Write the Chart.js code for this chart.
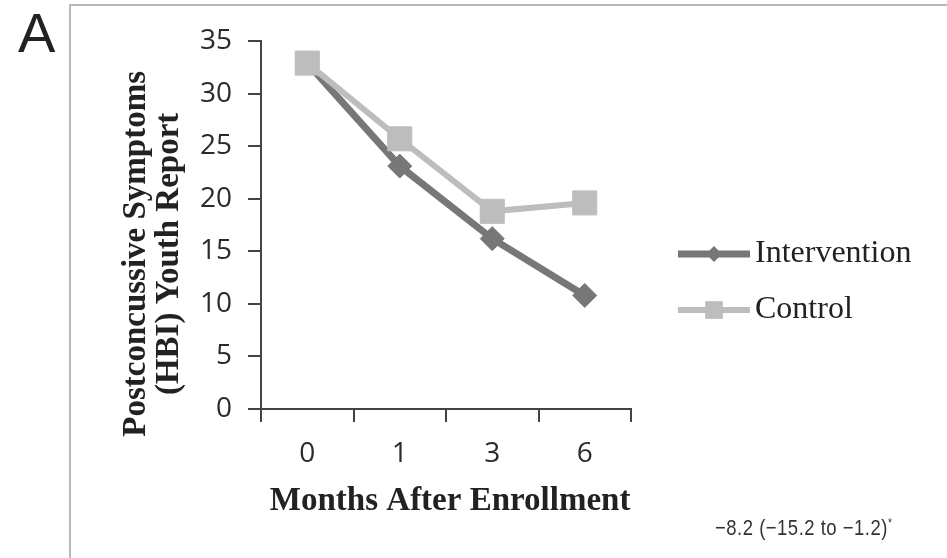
<!DOCTYPE html>
<html lang="en">
<head>
    <meta charset="UTF-8">
    <title>Postconcussive Symptoms - Youth Report</title>
    <script src="https://cdn.jsdelivr.net/npm/chart.js"></script>
    <style>
        html, body {
            margin: 0;
            padding: 0;
            background: #ffffff;
            overflow: hidden;
        }
        .wrap {
            position: relative;
            width: 947px;
            height: 558px;
        }
        .frame {
            position: absolute;
            left: 69px;
            top: 4px;
            width: 1000px;
            height: 1000px;
            border: 2px solid #b8b8b8;
        }
        .panel {
            position: absolute;
            left: 18px;
            top: 5px;
            font: 56px/1 "Liberation Sans", Arial, sans-serif;
            color: #222;
        }
        canvas {
            position: absolute;
            left: 0;
            top: 0;
        }
        .note {
            position: absolute;
            left: 715px;
            top: 517px;
            font: 22px/1 "Liberation Sans", Arial, sans-serif;
            letter-spacing: 0.6px;
            transform: scaleX(0.84);
            transform-origin: left top;
            white-space: nowrap;
            color: #333;
        }
        .note sup {
            font-size: 12px;
        }
    </style>
</head>
<body>
    <div class="wrap">
        <div class="frame"></div>
        <div class="panel">A</div>
        <canvas id="symptomsChart" width="947" height="558"></canvas>
        <div class="note">&minus;8.2 (&minus;15.2 to &minus;1.2)<sup>*</sup></div>
    </div>

    <script>
        // values
        const months = ['0', '1', '3', '6'];
        const intervention = [32.9, 23.1, 16.2, 10.8];
        const control = [32.9, 25.7, 18.8, 19.6];
        const seriesNames = ['Intervention', 'Control'];

        const darkGrey = '#777777';
        const lightGrey = '#bdbdbd';
        const axisColor = '#444444';

        // the y title sits a bit lower than the plot centre in the original,
        // trailing no-break spaces push it down
        const pad = '\u00a0'.repeat(7);

        // legend drawn as line + marker, like the original spreadsheet chart
        const lineLegend = {
            id: 'lineLegend',
            afterDraw(chart) {
                const ctx = chart.ctx;
                const area = chart.chartArea;
                const x0 = area.right + 47;
                const len = 72;
                chart.data.datasets.forEach((ds, i) => {
                    const y = area.top + 213 + i * 56;
                    ctx.save();
                    ctx.strokeStyle = ds.borderColor;
                    ctx.lineWidth = ds.borderWidth;
                    ctx.beginPath();
                    ctx.moveTo(x0, y);
                    ctx.lineTo(x0 + len, y);
                    ctx.stroke();
                    ctx.fillStyle = ds.borderColor;
                    Chart.helpers.drawPoint(ctx, {
                        pointStyle: ds.pointStyle,
                        radius: ds.legendRadius,
                        rotation: 0,
                        borderWidth: 0
                    }, x0 + len / 2, y);
                    ctx.fillStyle = '#222';
                    ctx.font = '32px "Liberation Serif", "Times New Roman", serif';
                    ctx.textBaseline = 'middle';
                    ctx.textAlign = 'left';
                    ctx.fillText(ds.label, x0 + len + 5, y);
                    ctx.restore();
                });
            }
        };

        new Chart(document.getElementById('symptomsChart'), {
            type: 'line',
            data: {
                labels: months,
                datasets: [
                    {
                        label: seriesNames[0],
                        data: intervention,
                        borderColor: darkGrey,
                        backgroundColor: darkGrey,
                        borderWidth: 7,
                        pointStyle: 'rectRot',
                        pointRadius: 12,
                        pointBorderWidth: 1,
                        pointBorderColor: darkGrey,
                        pointBackgroundColor: darkGrey,
                        legendRadius: 8,
                        tension: 0,
                        order: 1
                    },
                    {
                        label: seriesNames[1],
                        data: control,
                        borderColor: lightGrey,
                        backgroundColor: lightGrey,
                        borderWidth: 6,
                        pointStyle: 'rect',
                        pointRadius: 17,
                        pointBorderWidth: 1,
                        pointBorderColor: lightGrey,
                        pointBackgroundColor: lightGrey,
                        legendRadius: 12.5,
                        tension: 0,
                        order: 0
                    }
                ]
            },
            options: {
                responsive: false,
                animation: false,
                layout: {
                    padding: { left: 120, right: 316, top: 41, bottom: 40 }
                },
                plugins: {
                    legend: { display: false },
                    tooltip: { enabled: false }
                },
                scales: {
                    x: {
                        type: 'category',
                        offset: true,
                        afterFit(scale) { scale.height = 109; },
                        grid: {
                            offset: true,
                            drawOnChartArea: false,
                            drawTicks: true,
                            tickLength: 13,
                            color: axisColor,
                            lineWidth: 2
                        },
                        border: { display: true, color: axisColor, width: 2 },
                        ticks: {
                            padding: 15,
                            color: '#2b2b2b',
                            font: { family: '"Open Sans", sans-serif', size: 28 }
                        },
                        title: {
                            display: true,
                            text: '\u00a0Months After Enrollment',
                            color: '#222',
                            padding: { top: 0, bottom: 0 },
                            font: { family: '"Liberation Serif", "Times New Roman", serif', size: 33, weight: 'bold', lineHeight: 1 }
                        }
                    },
                    y: {
                        min: 0,
                        max: 35,
                        afterFit(scale) { scale.width = 141; },
                        grid: {
                            drawOnChartArea: false,
                            drawTicks: true,
                            tickLength: 13,
                            color: axisColor,
                            lineWidth: 2
                        },
                        border: { display: true, color: axisColor, width: 2 },
                        ticks: {
                            stepSize: 5,
                            padding: 16,
                            color: '#2b2b2b',
                            font: { family: '"Open Sans", sans-serif', size: 28 }
                        },
                        title: {
                            display: true,
                            text: ['Postconcussive Symptoms' + pad, '(HBI) Youth Report' + pad],
                            color: '#222',
                            padding: { top: 0, bottom: 0 },
                            font: { family: '"Liberation Serif", "Times New Roman", serif', size: 33, weight: 'bold', lineHeight: 1 }
                        }
                    }
                }
            },
            plugins: [lineLegend]
        });
    </script>
</body>
</html>
